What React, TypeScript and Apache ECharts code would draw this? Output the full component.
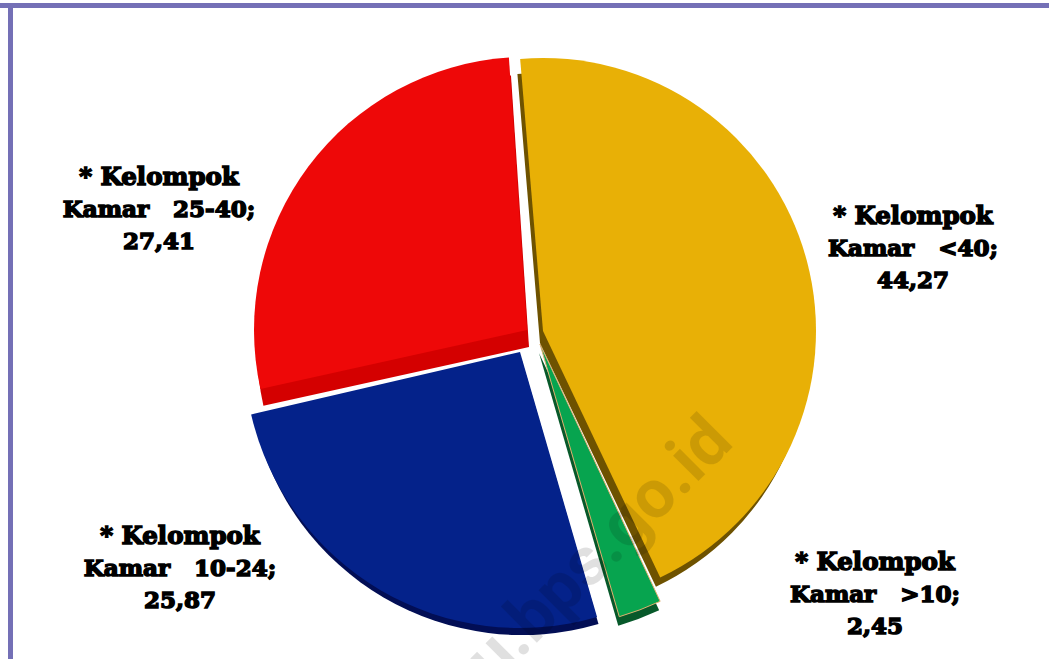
import React, { useEffect, useRef } from "react";
import * as echarts from "echarts";

const categories = ["Kelompok Kamar <40", "Kelompok Kamar >10", "Kelompok Kamar 10-24", "Kelompok Kamar 25-40"];
const labelLines = ["Kamar   <40;", "Kamar   >10;", "Kamar   10-24;", "Kamar   25-40;"];
const valueTexts = ["44,27", "2,45", "25,87", "27,41"];
const values = [44.27, 2.45, 25.87, 27.41];
const watermark = "u.bps.go.id";

const FIRST_ANGLE = 94.4;
const faceColors = ["#e8b006", "#07a44f", "#04228a", "#ee0808"];
const sideColors = ["#6e5200", "#07592a", "#020e55", "#d40000"];
const centers = [[543, 331], [540, 344], [520, 352], [527, 330]];
const radii = [273, 284, 276, 273];
const angleNudge = [0.4, 0, 0, -0.6];
const sideShift = [[-3, 12, -3], [-1, 9, 0], [2, 9, -2], [2, 17, -1]];
const order = [1, 0, 2, 3];
const labelPos = [[913, 247], [875, 593], [180, 567], [159, 208]];

function slice(i: number, start: number, isSide: boolean, z: number) {
  const [dx, dy, dr] = isSide ? sideShift[i] : [0, 0, 0];
  const color = isSide ? sideColors[i] : faceColors[i];
  const border = !isSide && i === 1 ? { borderColor: "#e0b070", borderWidth: 1 } : {};
  return {
    type: "pie",
    name: categories[i],
    z,
    silent: true,
    clockwise: true,
    startAngle: start + angleNudge[i],
    center: [centers[i][0] + dx, centers[i][1] + dy],
    radius: [0, radii[i] + dr],
    avoidLabelOverlap: false,
    label: { show: false },
    labelLine: { show: false },
    emphasis: { disabled: true },
    data: [
      { name: categories[i], value: values[i], itemStyle: { color, ...border } },
      { name: "", value: 100 - values[i], itemStyle: { color: "rgba(0,0,0,0)", borderWidth: 0 } },
    ],
  };
}

const richText = (font: string, lw: number) => ({
  font,
  fill: "#000",
  stroke: "#000",
  lineWidth: lw,
  lineHeight: 32,
});

export default function App() {
  const ref = useRef<HTMLDivElement>(null);
  useEffect(() => {
    const chart = echarts.init(ref.current!, undefined, { renderer: "svg" });
    let a = FIRST_ANGLE;
    const starts = values.map((v) => {
      const s = a;
      a -= (v / 100) * 360;
      return s;
    });
    const series: any[] = [];
    order.forEach((i, k) => {
      series.push(slice(i, starts[i], true, 2 + k * 2));
      series.push(slice(i, starts[i], false, 3 + k * 2));
    });
    chart.setOption({
      animation: false,
      backgroundColor: "#ffffff",
      series,
      graphic: [
        { type: "rect", z: 50, shape: { x: 0, y: 3, width: 1049, height: 5 }, style: { fill: "#7470b6" } },
        { type: "rect", z: 50, shape: { x: 8, y: 3, width: 5, height: 656 }, style: { fill: "#7470b6" } },
        ...values.map((_, i) => ({
          type: "text",
          z: 60,
          x: labelPos[i][0],
          y: labelPos[i][1],
          style: {
            text: `{a|* Kelompok}\n{b|${labelLines[i]}}\n{b|${valueTexts[i]}}`,
            align: "center",
            verticalAlign: "middle",
            rich: {
              a: richText("bold 24.5px 'DejaVu Serif'", 1.5),
              b: richText("bold 23px 'DejaVu Serif'", 1.5),
            },
          },
        })),
        {
          type: "text",
          z: 70,
          x: 598,
          y: 549,
          rotation: Math.PI / 4,
          style: {
            text: watermark,
            fill: "rgba(0,0,0,0.12)",
            font: "700 68px Roboto",
            align: "center",
            verticalAlign: "middle",
          },
        },
      ],
    });
    return () => chart.dispose();
  }, []);
  return <div ref={ref} style={{ position: "absolute", left: 0, top: 0, width: 1049, height: 659 }} />;
}
